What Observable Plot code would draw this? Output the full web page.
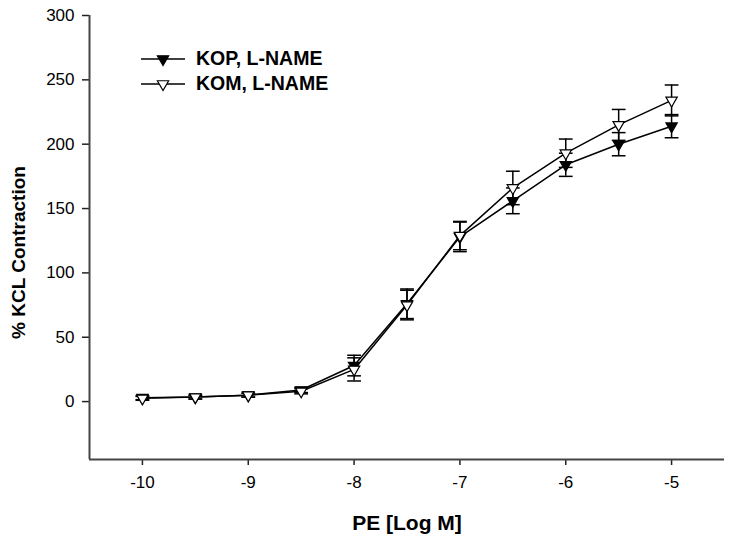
<!DOCTYPE html>
<html>
<head>
<meta charset="utf-8">
<script src="https://cdn.jsdelivr.net/npm/d3@7"></script>
<script src="https://cdn.jsdelivr.net/npm/@observablehq/plot@0.6"></script>
<style>
  html, body { margin: 0; padding: 0; background: #fff; }
  #wrap { position: relative; width: 734px; height: 544px; font-family: "Liberation Sans", Arial, sans-serif; }
  #legend { position: absolute; left: 140px; top: 46px; }
  .row { display: flex; align-items: center; height: 25px; font-weight: bold; font-size: 19.5px; color: #000; }
  .row svg { margin-right: 10px; }
</style>
</head>
<body>
<div id="wrap"></div>
<script>
// PE concentration (log M)
const logConc = [-10, -9.5, -9, -8.5, -8, -7.5, -7, -6.5, -6, -5.5, -5];
// KOP, L-NAME
const kopMean = [3, 3.5, 5, 9, 28, 76, 128, 156, 184, 200, 214];
const kopSE   = [1.5, 1.5, 1.5, 2, 8, 11.5, 11.5, 10, 9, 9, 9];
// KOM, L-NAME
const komMean = [2.5, 3.5, 5, 8, 25, 75, 129, 166, 193, 215, 234];
const komSE   = [1.5, 1.5, 1.5, 2, 9, 11.5, 11, 13, 11, 12, 12];
// axis ticks
const xTicks = [-10, -9, -8, -7, -6, -5];
const yTicks = [0, 50, 100, 150, 200, 250, 300];
const seriesNames = ["KOP, L-NAME", "KOM, L-NAME"];

const kop = logConc.map((x, i) => ({series: seriesNames[0], x, y: kopMean[i], se: kopSE[i]}));
const kom = logConc.map((x, i) => ({series: seriesNames[1], x, y: komMean[i], se: komSE[i]}));

const capHalf = 0.065;
const fill = {[seriesNames[0]]: "#000", [seriesNames[1]]: "#fff"};

function seriesMarks(data) {
  return [
    Plot.line(data, {x: "x", y: "y", stroke: "#000", strokeWidth: 1.5}),
    Plot.ruleX(data, {x: "x", y1: d => d.y - d.se, y2: d => d.y + d.se, stroke: "#000", strokeWidth: 1.5}),
    Plot.link(data, {x1: d => d.x - capHalf, x2: d => d.x + capHalf, y1: d => d.y + d.se, y2: d => d.y + d.se, stroke: "#000", strokeWidth: 1.5}),
    Plot.link(data, {x1: d => d.x - capHalf, x2: d => d.x + capHalf, y1: d => d.y - d.se, y2: d => d.y - d.se, stroke: "#000", strokeWidth: 1.5}),
    Plot.dot(data, {x: "x", y: "y", symbol: "triangle", rotate: 180, r: 4.2, fill: d => fill[d.series], stroke: "#000", strokeWidth: 1.2})
  ];
}

const chart = Plot.plot({
  width: 734,
  height: 544,
  marginLeft: 89,
  marginRight: 10,
  marginTop: 15,
  marginBottom: 85,
  style: {fontFamily: "'Liberation Sans', Arial, sans-serif", fontSize: "17px", color: "#000", background: "#fff"},
  x: {domain: [-10.5, -4.5]},
  y: {domain: [-45, 300]},
  marks: [
    Plot.axisX({ticks: xTicks, tickSize: 6, tickPadding: 10, tickFormat: d => String(d), label: null, fontSize: 17, stroke: "#222", strokeWidth: 1.5}),
    Plot.axisY({ticks: yTicks, tickSize: 7, tickPadding: 8, tickFormat: d => String(d), label: null, fontSize: 17, stroke: "#222", strokeWidth: 1.5}),
    Plot.ruleX([-10.5], {stroke: "#444", strokeWidth: 2}),
    Plot.ruleY([-45], {stroke: "#444", strokeWidth: 2}),
    ...seriesMarks(kop),
    ...seriesMarks(kom),
    Plot.text(["PE [Log M]"], {frameAnchor: "bottom", textAnchor: "middle", lineAnchor: "middle", dy: 64, fontWeight: "bold", fontSize: 21}),
    Plot.text(["% KCL Contraction"], {frameAnchor: "left", textAnchor: "middle", lineAnchor: "middle", rotate: -90, dx: -71, dy: 15, fontWeight: "bold", fontSize: 19})
  ]
});

const wrap = document.getElementById("wrap");
wrap.appendChild(chart);

// legend overlay
const legend = document.createElement("div");
legend.id = "legend";
seriesNames.forEach(name => {
  const row = document.createElement("div");
  row.className = "row";
  const ns = "http://www.w3.org/2000/svg";
  const s = document.createElementNS(ns, "svg");
  s.setAttribute("width", "46");
  s.setAttribute("height", "16");
  const line = document.createElementNS(ns, "line");
  line.setAttribute("x1", "1"); line.setAttribute("x2", "45");
  line.setAttribute("y1", "8"); line.setAttribute("y2", "8");
  line.setAttribute("stroke", "#000"); line.setAttribute("stroke-width", "1.5");
  s.appendChild(line);
  const sym = d3.symbol(d3.symbolTriangle, Math.PI * 4.2 * 4.2)();
  const p = document.createElementNS(ns, "path");
  p.setAttribute("d", sym);
  p.setAttribute("transform", "translate(23,8) rotate(180)");
  p.setAttribute("fill", fill[name]);
  p.setAttribute("stroke", "#000");
  p.setAttribute("stroke-width", "1.2");
  s.appendChild(p);
  row.appendChild(s);
  const t = document.createElement("span");
  t.textContent = name;
  row.appendChild(t);
  legend.appendChild(row);
});
wrap.appendChild(legend);
</script>
</body>
</html>
